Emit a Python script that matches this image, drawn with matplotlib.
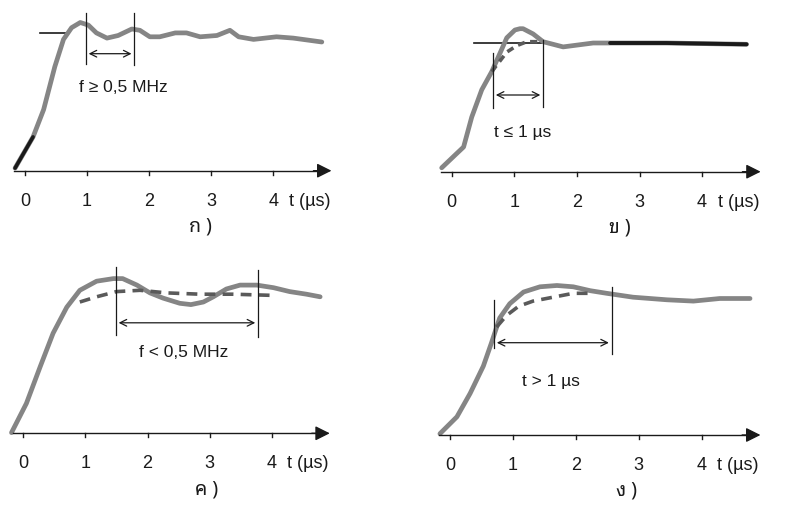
import matplotlib
matplotlib.use("Agg")
import matplotlib.pyplot as plt

plt.rcParams['font.family'] = ['Liberation Sans', 'DejaVu Sans']
THAI = ['Noto Sans Thai Looped', 'Sarabun', 'Athiti', 'DejaVu Sans']

# --- data (t in us, v relative to final level) ---
tick_labels = ['0', '1', '2', '3', '4']
captions = ['ก )', 'ข )', 'ค )', 'ง )']

# panel ก
a_t = [-0.16, 0.13, 0.30, 0.48, 0.62, 0.75, 0.89, 1.02, 1.15, 1.32, 1.50, 1.72, 1.85,
       2.01, 2.17, 2.42, 2.60, 2.82, 3.09, 3.30, 3.44, 3.68, 4.05, 4.32, 4.78]
a_v = [0.02, 0.26, 0.47, 0.80, 1.01, 1.10, 1.14, 1.12, 1.06, 1.02, 1.04, 1.09, 1.08,
       1.03, 1.03, 1.06, 1.06, 1.03, 1.04, 1.08, 1.03, 1.01, 1.03, 1.02, 0.99]

# panel ข
b_t = [-0.16, 0.08, 0.19, 0.32, 0.48, 0.64, 0.77, 0.88, 1.01, 1.09, 1.14, 1.30, 1.46,
       1.78, 1.94, 2.26, 2.53, 3.43, 4.71]
b_v = [0.03, 0.14, 0.19, 0.42, 0.63, 0.77, 0.91, 1.03, 1.09, 1.10, 1.10, 1.06, 1.00,
       0.96, 0.97, 0.99, 0.99, 0.99, 0.98]
b_dash_t = [0.64, 0.88, 1.04, 1.20, 1.45]
b_dash_v = [0.77, 0.92, 0.97, 1.00, 1.00]

# panel ค
c_t = [-0.19, 0.05, 0.27, 0.48, 0.70, 0.91, 1.18, 1.45, 1.60, 1.83, 2.04, 2.25,
       2.52, 2.70, 2.90, 3.06, 3.27, 3.49, 3.76, 4.03, 4.29, 4.56, 4.78]
c_v = [0.005, 0.23, 0.51, 0.77, 0.97, 1.10, 1.17, 1.19, 1.19, 1.14, 1.08, 1.04,
       1.00, 0.99, 1.01, 1.05, 1.11, 1.14, 1.14, 1.12, 1.09, 1.07, 1.05]
c_dash_t = [0.91, 1.18, 1.50, 1.88, 2.31, 2.85, 3.38, 4.08]
c_dash_v = [1.01, 1.05, 1.09, 1.10, 1.08, 1.07, 1.07, 1.06]

# panel ง
d_t = [-0.16, 0.11, 0.32, 0.53, 0.66, 0.79, 0.95, 1.17, 1.43, 1.70, 1.96, 2.23,
       2.49, 2.91, 3.45, 3.87, 4.29, 4.77]
d_v = [0.01, 0.14, 0.32, 0.53, 0.71, 0.90, 1.01, 1.10, 1.14, 1.15, 1.14, 1.11,
       1.09, 1.06, 1.04, 1.03, 1.05, 1.05]
d_dash_t = [0.74, 0.90, 1.09, 1.32, 1.64, 1.96, 2.28]
d_dash_v = [0.83, 0.92, 0.99, 1.03, 1.06, 1.09, 1.09]

W, H = 795, 513
fig = plt.figure(figsize=(W / 100, H / 100), dpi=100)
fig.patch.set_facecolor('white')

XLIM = (-0.4, 5.5)
YLIM = (-0.55, 1.32)
SY = 130.0
CURVE = '#858585'
DASH = '#5a5a5a'
INK = '#1a1a1a'


def make_axes(x0, y0, sx):
    # x0, y0: pixel position of the origin; sx: pixels per microsecond
    left = x0 + XLIM[0] * sx
    width = (XLIM[1] - XLIM[0]) * sx
    top = y0 - YLIM[1] * SY
    height = (YLIM[1] - YLIM[0]) * SY
    ax = fig.add_axes([left / W, 1 - (top + height) / H, width / W, height / H])
    ax.set_xlim(*XLIM)
    ax.set_ylim(*YLIM)
    ax.axis('off')
    return ax


def draw_axis(ax, caption, cap_t):
    ax.plot([-0.17, 4.8], [0, 0], color=INK, lw=1.0, clip_on=False)
    ax.annotate('', xy=(4.98, 0), xytext=(4.6, 0),
                arrowprops=dict(arrowstyle='-|>', color=INK, lw=1.0, mutation_scale=22),
                annotation_clip=False)
    for i, lab in enumerate(tick_labels):
        ax.plot([i, i], [0, -0.03], color=INK, lw=1.0, clip_on=False)
        ax.text(i, -0.235, lab, ha='center', va='center', fontsize=13, color=INK)
    ax.text(4.25, -0.235, 't (µs)', ha='left', va='center', fontsize=13, color=INK)
    ax.text(cap_t, -0.43, caption, ha='center', va='center', fontsize=14, color=INK,
            family=THAI)


def marker(ax, t, v0, v1):
    ax.plot([t, t], [v0, v1], color=INK, lw=0.9, clip_on=False)


def span_arrow(ax, t0, t1, v):
    ax.annotate('', xy=(t1, v), xytext=(t0, v),
                arrowprops=dict(arrowstyle='<->', color=INK, lw=0.9, mutation_scale=12),
                annotation_clip=False)


def curve(ax, t, v, **kw):
    ax.plot(t, v, color=CURVE, lw=3.4, solid_capstyle='round',
            solid_joinstyle='round', **kw)


# --- ก ---
ax = make_axes(25, 170.7, 62.1)
ax.plot([0.24, 0.68], [1.06, 1.06], color=INK, lw=1.2)
curve(ax, a_t, a_v)
ax.plot(a_t[:2], a_v[:2], color=INK, lw=2.6, solid_capstyle='round')
marker(ax, 0.98, 1.21, 0.82)
marker(ax, 1.76, 1.21, 0.81)
span_arrow(ax, 0.98, 1.76, 0.90)
ax.text(1.58, 0.64, 'f ≥ 0,5 MHz', ha='center', va='center', fontsize=12.5, color=INK)
draw_axis(ax, captions[0], 2.82)

# --- ข ---
ax = make_axes(451.7, 171.7, 62.6)
ax.plot([0.35, 1.46], [0.99, 0.99], color=INK, lw=1.2)
curve(ax, b_t, b_v)
k = b_t.index(2.53)
ax.plot(b_t[k:], b_v[k:], color=INK, lw=2.8, solid_capstyle='round')
ax.plot(b_dash_t, b_dash_v, color=DASH, lw=2.6, ls=(0, (2, 1.5)))
marker(ax, 0.66, 0.91, 0.49)
marker(ax, 1.46, 1.01, 0.50)
span_arrow(ax, 0.66, 1.46, 0.59)
ax.text(1.14, 0.30, 't ≤ 1 µs', ha='center', va='center', fontsize=12.5, color=INK)
draw_axis(ax, captions[1], 2.69)

# --- ค ---
ax = make_axes(23.3, 433.3, 62.1)
curve(ax, c_t, c_v)
ax.plot(c_dash_t, c_dash_v, color=DASH, lw=2.6, ls=(0, (3, 2)))
marker(ax, 1.49, 1.28, 0.76)
marker(ax, 3.78, 1.26, 0.74)
span_arrow(ax, 1.49, 3.78, 0.85)
ax.text(2.58, 0.62, 'f < 0,5 MHz', ha='center', va='center', fontsize=12.5, color=INK)
draw_axis(ax, captions[2], 2.95)

# --- ง ---
ax = make_axes(450, 435, 62.9)
curve(ax, d_t, d_v)
ax.plot(d_dash_t, d_dash_v, color=DASH, lw=2.6, ls=(0, (3, 2)))
marker(ax, 0.70, 1.04, 0.67)
marker(ax, 2.57, 1.14, 0.62)
span_arrow(ax, 0.70, 2.57, 0.71)
ax.text(1.60, 0.41, 't > 1 µs', ha='center', va='center', fontsize=12.5, color=INK)
draw_axis(ax, captions[3], 2.81)

fig.savefig('out.png', dpi=100, facecolor='white')
